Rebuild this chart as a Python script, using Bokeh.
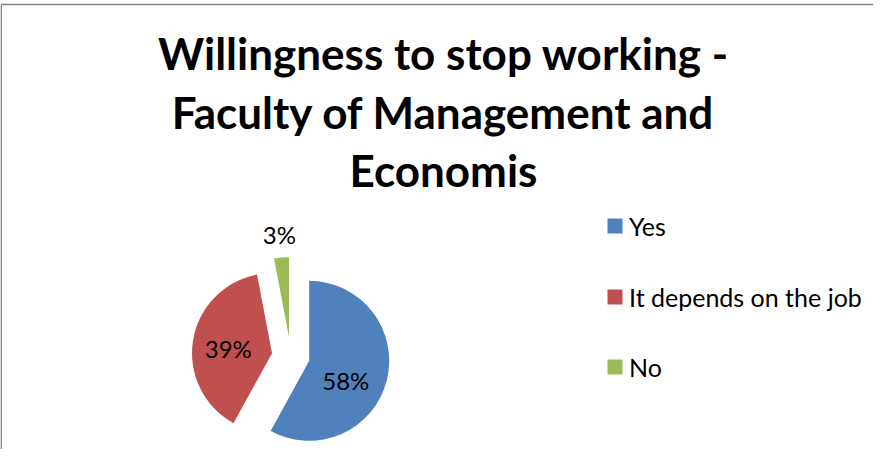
import math
from bokeh.plotting import figure
from bokeh.models import Range1d
from bokeh.core.properties import value
from bokeh.embed import file_html
from bokeh.resources import INLINE

# ---- data ----
categories = ["Yes", "It depends on the job", "No"]
percent = [58, 39, 3]
label_text = ["58%", "39%", "3%"]
colors = ["#4F81BD", "#C0504D", "#9BBB59"]
title_lines = ["Willingness to stop working -", "Faculty of Management and", "Economis"]

# ---- layout (page pixel space: x = page x, y = 457 - page y) ----
W, H = 873, 449
p = figure(width=W, height=H, output_backend="svg", toolbar_location=None,
           x_range=Range1d(8, 881), y_range=Range1d(0, 449),
           min_border=0, outline_line_color=None)
p.axis.visible = False
p.grid.visible = False
p.background_fill_color = "white"
p.border_fill_color = "white"

# chart border (left & top visible)
p.line(x=[8.7, 8.7], y=[0, 457 - 12], line_color="#878787", line_width=1.6)
p.line(x=[8.7, 881], y=[457 - 12, 457 - 12], line_color="#878787", line_width=1.6)

# title
FONT = "Lato"
title_mid = [60, 119, 177]
for line, ym in zip(title_lines, title_mid):
    p.text(x=[451], y=[457 - ym], text=[line], text_font=value(FONT),
           text_font_style="bold", text_font_size="44px", text_align="center",
           text_baseline="middle", text_color="black")

# pie
cx, cy = 298.3, 457 - 363.6
R = 80
explode = 19
total = sum(percent)
cum = 0
label_dist = [0.52, 0.55, 1.29]
label_ang_shift = [-14, 3, 0]
lx, ly = [], []
for i, v in enumerate(percent):
    a0 = cum / total
    a1 = (cum + v) / total
    cum += v
    start = math.pi / 2 - a0 * 2 * math.pi
    end = math.pi / 2 - a1 * 2 * math.pi
    mid = (start + end) / 2
    ox = cx + explode * math.cos(mid)
    oy = cy + explode * math.sin(mid)
    p.wedge(x=[ox], y=[oy], radius=R, start_angle=start, end_angle=end,
            direction="clock", fill_color=colors[i], line_color=None)
    la = mid + math.radians(label_ang_shift[i])
    lx.append(ox + label_dist[i] * R * math.cos(la))
    ly.append(oy + label_dist[i] * R * math.sin(la))

p.text(x=lx, y=ly, text=label_text, text_font=value(FONT), text_font_size="24px",
       text_align="center", text_baseline="middle", text_color="black")

# legend
leg_y = [457 - 233, 457 - 304, 457 - 374]
p.rect(x=[622.5] * 3, y=[v - 0.5 for v in leg_y], width=15, height=15, width_units="screen",
       height_units="screen", fill_color=colors, line_color=None)
p.text(x=[636.5] * 3, y=leg_y, text=categories, text_font=value(FONT),
       text_font_size="25px", text_align="left", text_baseline="middle",
       text_color="black")

open("out.html", "w").write(file_html(p, INLINE))
